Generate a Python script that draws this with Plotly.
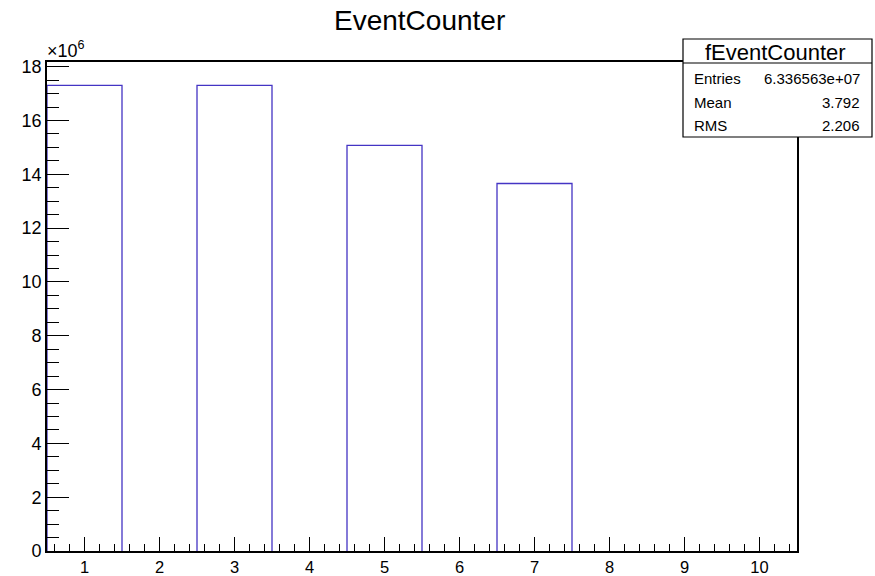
import plotly.graph_objects as go

# Histogram data (bin centers 1..10, bin width 1)
bin_edges = [0.5, 1.5, 2.5, 3.5, 4.5, 5.5, 6.5, 7.5, 8.5, 9.5, 10.5]
counts = [17.31e6, 0, 17.31e6, 0, 15.08e6, 0, 13.66e6, 0, 0, 0]
y_tick_vals = [0, 2e6, 4e6, 6e6, 8e6, 10e6, 12e6, 14e6, 16e6, 18e6]
y_tick_text = ["0", "2", "4", "6", "8", "10", "12", "14", "16", "18"]
x_tick_vals = [1, 2, 3, 4, 5, 6, 7, 8, 9, 10]
stats_labels = ["Entries", "Mean", "RMS"]
stats_values = ["6.336563e+07", "3.792", "2.206"]
title_text = "EventCounter"
stats_title = "fEventCounter"

FONT = "Liberation Sans, Arial, Helvetica, sans-serif"
LINE = "#4434c4"

# Plot area in pixels
W, H = 875, 576
L, R, T, B = 47, 797, 62, 551

def px(x):
    return (x - L) / (R - L)

def py(y):
    return (B - y) / (B - T)

# Outline path of the histogram (zero-level segments hidden under the axis)
path_x, path_y = [], []
for i, c in enumerate(counts):
    if c > 0:
        lo, hi = bin_edges[i], bin_edges[i + 1]
        path_x += [lo, lo, hi, hi, None]
        path_y += [0, c, c, 0, None]

fig = go.Figure()
fig.add_trace(go.Scatter(
    x=path_x, y=path_y,
    mode="lines",
    line=dict(color=LINE, width=1.3),
    connectgaps=False,
    hoverinfo="skip",
    showlegend=False,
))

ymax = max(counts) * 1.05

fig.update_layout(
    width=W, height=H,
    margin=dict(l=L, r=W - R, t=T, b=H - B, pad=0, autoexpand=False),
    paper_bgcolor="white",
    plot_bgcolor="white",
    font=dict(family=FONT, color="black"),
    showlegend=False,
    xaxis=dict(
        range=[0.5, 10.5],
        automargin=False,
        tickvals=x_tick_vals,
        ticks="inside", ticklen=14, tickwidth=1, tickcolor="black",
        minor=dict(ticks="inside", ticklen=7, dtick=0.2, tick0=0, tickcolor="black", tickwidth=1),
        showline=True, mirror=True, linecolor="black", linewidth=1.6,
        showgrid=False, zeroline=False, layer="above traces",
        tickfont=dict(size=16.5, family=FONT),
    ),
    yaxis=dict(
        range=[0, ymax],
        automargin=False,
        tickvals=y_tick_vals, ticktext=y_tick_text,
        ticks="inside", ticklen=22, tickwidth=1, tickcolor="black",
        minor=dict(ticks="inside", ticklen=12, dtick=0.5e6, tick0=0, tickcolor="black", tickwidth=1),
        showline=True, mirror=True, linecolor="black", linewidth=1.6,
        showgrid=False, zeroline=False, layer="above traces",
        tickfont=dict(size=18, family=FONT),
    ),
)

# Title
fig.add_annotation(
    x=px(419), y=py(20), xref="paper", yref="paper",
    text=title_text, showarrow=False,
    font=dict(size=28, family=FONT, color="black"),
    xanchor="center", yanchor="middle",
)

# Exponent label
fig.add_annotation(
    x=px(45), y=py(50), xref="paper", yref="paper",
    text="×10<sup>6</sup>", showarrow=False,
    font=dict(size=18, family=FONT, color="black"),
    xanchor="left", yanchor="middle",
)

# Stats box
bx0, bx1, by0, by1, bdiv = 683, 872, 39, 137, 63
fig.add_shape(type="rect", xref="paper", yref="paper",
              x0=px(bx0), x1=px(bx1), y0=py(by1), y1=py(by0),
              line=dict(color="black", width=1.2), fillcolor="white", layer="above")
fig.add_shape(type="line", xref="paper", yref="paper",
              x0=px(bx0), x1=px(bx1), y0=py(bdiv), y1=py(bdiv),
              line=dict(color="black", width=1.2), layer="above")
fig.add_annotation(
    x=px((bx0 + bx1) / 2 - 2), y=py(52), xref="paper", yref="paper",
    text=stats_title, showarrow=False,
    font=dict(size=22, family=FONT, color="black"),
    xanchor="center", yanchor="middle",
)
row_y = [78, 102, 125]
for lab, val, yy in zip(stats_labels, stats_values, row_y):
    fig.add_annotation(
        x=px(692), y=py(yy), xref="paper", yref="paper",
        text=lab, showarrow=False,
        font=dict(size=15, family=FONT, color="black"),
        xanchor="left", yanchor="middle",
    )
    fig.add_annotation(
        x=px(862), y=py(yy), xref="paper", yref="paper",
        text=val, showarrow=False,
        font=dict(size=15, family=FONT, color="black"),
        xanchor="right", yanchor="middle",
    )

fig.write_html("out.html")
